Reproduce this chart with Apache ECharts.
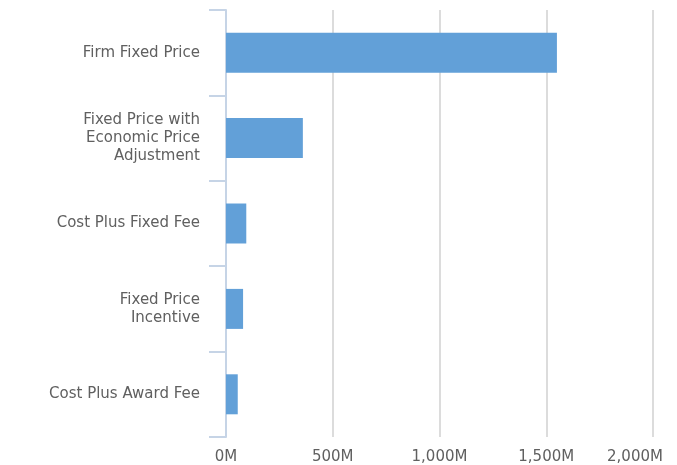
<!DOCTYPE html>
<html>
<head>
<meta charset="utf-8">
<script src="https://cdn.jsdelivr.net/npm/echarts@6/dist/echarts.min.js"></script>
<style>
  html, body { margin: 0; padding: 0; background: #fff; }
  #chart { width: 677px; height: 465px; }
</style>
</head>
<body>
<div id="chart"></div>
<script>
  // contract types, top to bottom
  var categories = [
    'Firm Fixed Price',
    'Fixed Price with\nEconomic Price\nAdjustment',
    'Cost Plus Fixed Fee',
    'Fixed Price\nIncentive',
    'Cost Plus Award Fee'
  ]
  // obligated amount, millions
  var amounts = [1550, 360, 95, 80, 55]
  var xMax = 2000
  var xStep = 500

  function fmt(v) {
    return String(v).replace(/\B(?=(\d{3})+(?!\d))/g, ',') + 'M'
  }

  var chart = echarts.init(document.getElementById('chart'))
  chart.setOption({
    animation: false,
    grid: { left: 226, top: 10, width: 427, height: 427 },
    xAxis: {
      type: 'value',
      min: 0,
      max: xMax,
      interval: xStep,
      axisLine: { show: false },
      axisTick: { show: false },
      splitLine: { lineStyle: { color: '#dcdcdc', width: 2 } },
      axisLabel: {
        margin: 13,
        color: '#606060',
        fontFamily: 'DejaVu Sans',
        fontSize: 15,
        formatter: function (v) {
          return v === xMax ? '{last|' + fmt(v) + '}' : fmt(v)
        },
        rich: {
          last: { color: '#606060', fontFamily: 'DejaVu Sans', fontSize: 15, padding: [0, 36, 0, 0] }
        }
      }
    },
    yAxis: {
      type: 'category',
      inverse: true,
      data: categories,
      axisLine: { show: true, lineStyle: { color: '#c6d4e6', width: 2 } },
      axisTick: { show: true, alignWithLabel: false, length: 17, lineStyle: { color: '#c6d4e6', width: 2 } },
      axisLabel: {
        margin: 26,
        color: '#606060',
        fontFamily: 'DejaVu Sans',
        fontSize: 15,
        lineHeight: 18,
        align: 'right'
      }
    },
    series: [{
      type: 'bar',
      data: amounts,
      barWidth: 40,
      itemStyle: { color: '#62a0d8' }
    }]
  })
</script>
</body>
</html>
